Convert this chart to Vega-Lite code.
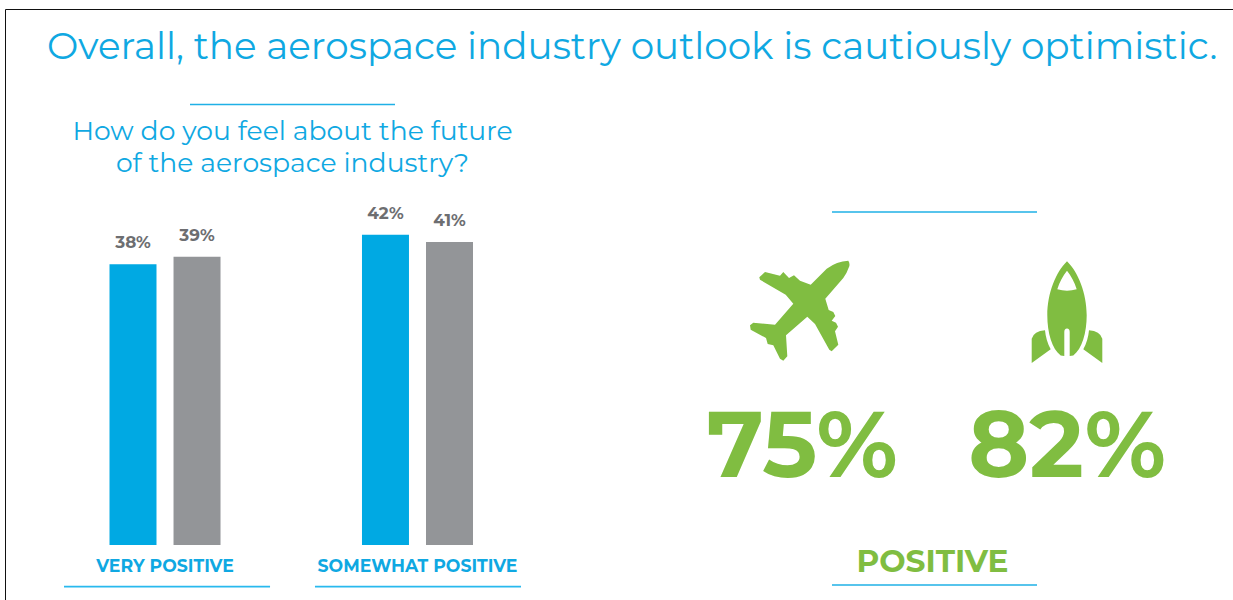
{
  "$schema": "https://vega.github.io/schema/vega-lite/v6.json",
  "width": 1233,
  "height": 600,
  "padding": 0,
  "autosize": "none",
  "background": "white",
  "title": {
    "text": "Overall, the aerospace industry outlook is cautiously optimistic.",
    "anchor": "start",
    "frame": "group",
    "orient": "top",
    "offset": 0,
    "dx": 47,
    "dy": 67,
    "font": "Montserrat",
    "fontSize": 37.3,
    "fontWeight": 400,
    "color": "#0fa8e2"
  },
  "config": {"view": {"stroke": null}},
  "datasets": {
    "answers": [
      {"answer": "VERY POSITIVE", "group": "Group A", "share": 0.38},
      {"answer": "VERY POSITIVE", "group": "Group B", "share": 0.39},
      {"answer": "SOMEWHAT POSITIVE", "group": "Group A", "share": 0.42},
      {"answer": "SOMEWHAT POSITIVE", "group": "Group B", "share": 0.41}
    ],
    "categories": [{"answer": "VERY POSITIVE"}, {"answer": "SOMEWHAT POSITIVE"}],
    "sectors": [
      {"sector": "Aviation", "share": 0.75},
      {"sector": "Space", "share": 0.82}
    ]
  },
  "layer": [
    {
      "description": "Thin page frame",
      "data": {"values": [{"edge": "frame"}]},
      "mark": {"type": "rect", "fill": "transparent", "stroke": "#111111", "strokeWidth": 1},
      "encoding": {
        "x": {"datum": 0, "type": "quantitative", "axis": null, "scale": {"domain": [0, 1], "range": [5.5, 1300]}},
        "x2": {"datum": 1},
        "y": {"datum": 0, "type": "quantitative", "axis": null, "scale": {"domain": [0, 1], "range": [9.5, 700]}},
        "y2": {"datum": 1}
      }
    },
    {
      "description": "Short rule over the question",
      "data": {"values": [{"edge": "question rule"}]},
      "mark": {"type": "rule", "stroke": "#1fb0e6", "strokeWidth": 1.3},
      "encoding": {
        "x": {"datum": 0, "type": "quantitative", "axis": null, "scale": {"domain": [0, 1], "range": [190, 395]}},
        "x2": {"datum": 1},
        "y": {"datum": 0.1742, "type": "quantitative", "axis": null, "scale": {"domain": [0, 1], "range": [0, 600]}}
      }
    },
    {
      "description": "Question, two centred lines",
      "data": {"values": [{"line": "How do you feel about the future"}, {"line": "of the aerospace industry?"}]},
      "mark": {"type": "text", "font": "Montserrat", "fontSize": 26.6, "fontWeight": 400, "color": "#0fa8e2", "align": "center", "baseline": "middle"},
      "encoding": {
        "x": {"datum": 0.5, "type": "quantitative", "axis": null, "scale": {"domain": [0, 1], "range": [64, 521]}},
        "y": {"field": "line", "type": "nominal", "axis": null, "sort": null, "scale": {"type": "point", "padding": 0, "range": [132, 164]}},
        "text": {"field": "line"}
      }
    },
    {
      "description": "Bars per answer and group",
      "data": {"name": "answers"},
      "mark": {"type": "bar"},
      "encoding": {
        "x": {"field": "answer", "type": "nominal", "axis": null, "sort": null, "scale": {"type": "band", "range": [62, 520.5], "paddingInner": 0.184, "paddingOuter": 0}},
        "xOffset": {"field": "group", "type": "nominal", "scale": {"type": "band", "paddingInner": 0.266, "paddingOuter": 0.742}},
        "y": {"field": "share", "type": "quantitative", "axis": null, "scale": {"domain": [0, 0.7375], "range": [545, 0], "nice": false}},
        "color": {"field": "group", "type": "nominal", "legend": null, "scale": {"domain": ["Group A", "Group B"], "range": ["#00a9e3", "#939598"]}}
      }
    },
    {
      "description": "Share labels above the bars",
      "data": {"name": "answers"},
      "mark": {"type": "text", "font": "Montserrat", "fontSize": 16.8, "fontWeight": 700, "color": "#6d6e71", "align": "center", "baseline": "middle", "dy": -21},
      "encoding": {
        "x": {"field": "answer", "type": "nominal", "axis": null, "sort": null, "scale": {"type": "band", "range": [62, 520.5], "paddingInner": 0.184, "paddingOuter": 0}},
        "xOffset": {"field": "group", "type": "nominal", "scale": {"type": "band", "paddingInner": 0.266, "paddingOuter": 0.742}},
        "y": {"field": "share", "type": "quantitative", "axis": null, "scale": {"domain": [0, 0.7375], "range": [545, 0], "nice": false}},
        "text": {"field": "share", "type": "quantitative", "format": ".0%"}
      }
    },
    {
      "description": "Answer names under the bars",
      "data": {"name": "categories"},
      "mark": {"type": "text", "font": "Montserrat", "fontSize": 17.3, "fontWeight": 700, "color": "#0fa8e2", "align": "center", "baseline": "middle"},
      "encoding": {
        "x": {"field": "answer", "type": "nominal", "axis": null, "sort": null, "scale": {"type": "band", "range": [62, 520.5], "paddingInner": 0.184, "paddingOuter": 0}},
        "y": {"datum": 0.9455, "type": "quantitative", "axis": null, "scale": {"domain": [0, 1], "range": [0, 600]}},
        "text": {"field": "answer"}
      }
    },
    {
      "description": "Rule under each answer name",
      "data": {"name": "categories"},
      "mark": {"type": "bar", "color": "#29b9ee"},
      "encoding": {
        "x": {"field": "answer", "type": "nominal", "axis": null, "sort": null, "scale": {"type": "band", "range": [64, 521], "paddingInner": 0.179, "paddingOuter": 0}},
        "y": {"datum": 0.9763, "type": "quantitative", "axis": null, "scale": {"domain": [0, 1], "range": [0, 600]}},
        "y2": {"datum": 0.979}
      }
    },
    {
      "description": "Rules above and below the sector figures",
      "data": {"values": [{"place": "above"}, {"place": "below"}]},
      "mark": {"type": "rule", "stroke": "#1fb0e6", "strokeWidth": 1.3},
      "encoding": {
        "x": {"datum": 0, "type": "quantitative", "axis": null, "scale": {"domain": [0, 1], "range": [832, 1037]}},
        "x2": {"datum": 1},
        "y": {"field": "place", "type": "nominal", "axis": null, "sort": null, "scale": {"type": "point", "padding": 0, "range": [212, 585]}}
      }
    },
    {
      "description": "Sector pictograms: airliner and rocket",
      "data": {"name": "sectors"},
      "mark": {"type": "point", "filled": true, "size": 4, "opacity": 1, "color": "#80bd41", "strokeWidth": 0},
      "encoding": {
        "x": {"field": "sector", "type": "nominal", "axis": null, "sort": null, "scale": {"type": "point", "padding": 0, "range": [800, 1067]}},
        "y": {"datum": 0.5217, "type": "quantitative", "axis": null, "scale": {"domain": [0, 1], "range": [0, 600]}},
        "shape": {
          "field": "sector",
          "type": "nominal",
          "legend": null,
          "scale": {
            "domain": ["Aviation", "Space"],
            "range": [
              "M48.3,-52.3 Q50,-50 49.3,-46.7 Q47,-40 43.3,-35 L25.3,-14.3 L28.7,-3 L33.3,-1 L35.3,3 L31.7,7.7 L36,9.7 L38,13.7 L35,18.3 L38.3,31.7 L31.7,38.3 L29.3,36.7 L15,11 L7.3,3.7 L-14,22.3 L-12.7,43.3 L-16.7,47.7 L-20,45.7 L-26.7,32.3 L-32.3,31 L-34,25 L-49.3,16.7 L-50,12.3 L-46.7,9.7 L-25,11.7 L-6.7,-9.3 L-14.3,-18.3 L-40,-33.3 L-40.7,-35.7 L-35,-41 L-20,-37.3 L-16.7,-41 L-11,-35 L-6,-37.7 L0,-32.3 L10.7,-28.3 L26.7,-44.3 Q36.7,-51.7 48.3,-52.3 Z",
              "M0,-51.7 C11,-41 19.7,-20 19.7,2.3 C19.7,20 15,36 6.3,42.5 L2.7,43 L2.7,19 Q2.7,15.5 0,15.5 Q-2.7,15.5 -2.7,19 L-2.7,43 L-6.3,42.5 C-15,36 -19.7,20 -19.7,2.3 C-19.7,-20 -11,-41 0,-51.7 Z M0,-42.3 C-4,-37 -7.5,-31 -9.7,-23.7 Q0,-21 9.7,-23.7 C7.5,-31 4,-37 0,-42.3 Z M-35.3,50 L-35.3,25.7 Q-33,18 -22,17.3 Q-21,28 -16.3,36.3 Z M35.3,50 L35.3,25.7 Q33,18 22,17.3 Q21,28 16.3,36.3 Z"
            ]
          }
        }
      }
    },
    {
      "description": "Large sector percentages",
      "data": {"name": "sectors"},
      "mark": {"type": "text", "font": "Montserrat", "fontSize": 92.5, "fontWeight": 700, "color": "#80bd41", "align": "center", "baseline": "middle"},
      "encoding": {
        "x": {"field": "sector", "type": "nominal", "axis": null, "sort": null, "scale": {"type": "point", "padding": 0, "range": [802, 1067]}},
        "y": {"datum": 0.7485, "type": "quantitative", "axis": null, "scale": {"domain": [0, 1], "range": [0, 600]}},
        "text": {"field": "share", "type": "quantitative", "format": ".0%"}
      }
    },
    {
      "description": "Label under the sector figures",
      "data": {"values": [{"label": "POSITIVE"}]},
      "mark": {"type": "text", "font": "Montserrat", "fontSize": 31.2, "fontWeight": 700, "color": "#80bd41", "align": "center", "baseline": "middle"},
      "encoding": {
        "x": {"datum": 0.49, "type": "quantitative", "axis": null, "scale": {"domain": [0, 1], "range": [832, 1037]}},
        "y": {"datum": 0.9383, "type": "quantitative", "axis": null, "scale": {"domain": [0, 1], "range": [0, 600]}},
        "text": {"field": "label"}
      }
    }
  ],
  "resolve": {
    "scale": {"x": "independent", "y": "independent", "xOffset": "independent", "color": "independent", "shape": "independent"},
    "axis": {"x": "independent", "y": "independent"}
  }
}
